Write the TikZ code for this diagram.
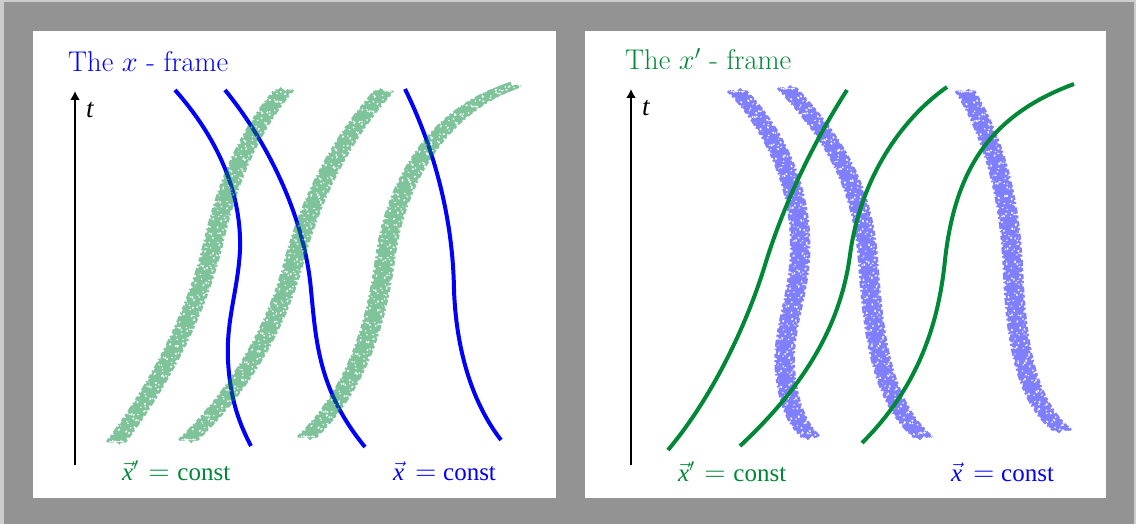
\RequirePackage{fix-cm}
\documentclass[tikz,border=0pt]{standalone}
\usepackage{fontspec}
\newfontfamily\tms{Liberation Serif}
\usetikzlibrary{arrows.meta}
\definecolor{frameGray}{RGB}{147,147,147}
\definecolor{edgeGray}{RGB}{205,205,205}
\definecolor{dkgreen}{RGB}{0,136,55}
\definecolor{pureblue}{RGB}{0,0,255}
\newcommand\chalkstroke[1]{%
  \begin{scope}[transparency group, opacity=0.5]
    \draw[#1, line width=9pt] \chalkpath;
    \foreach \s/\w/\dp in {
      -9/2.5/{on 4pt off 2.5pt on 2pt off 3pt on 7pt off 2pt on 1.5pt off 3.5pt},
      -7.5/2.5/{on 8pt off 1.5pt on 3pt off 2pt on 5pt off 1.5pt},
      -6/3/{on 11pt off 1.2pt on 6pt off 1.8pt},
      -4.5/3/{on 14pt off 1.4pt on 9pt off 1pt},
      4.5/3/{on 10pt off 1.3pt on 13pt off 1pt},
      6/3/{on 7pt off 1.5pt on 10pt off 1.8pt},
      7.5/2.5/{on 4pt off 2pt on 8pt off 1.5pt on 2pt off 2pt},
      9/2.5/{on 3pt off 3pt on 5pt off 2pt on 2pt off 3.5pt on 6pt off 2pt}}{
      \draw[#1, line width=\w pt, dash pattern/.expanded=\dp, xshift=\s pt] \chalkpath;
    }
    \foreach \s/\dp in {
      -6/{on 1.2pt off 13pt on 2pt off 17pt},
      -4/{on 2pt off 23pt on 1pt off 7pt},
      -1.5/{on 1.5pt off 21pt on 1pt off 9pt},
      0.5/{on 1pt off 27pt on 2pt off 12pt},
      2.5/{on 1pt off 11pt on 2.2pt off 19pt},
      4.5/{on 1.8pt off 15pt on 1pt off 8pt},
      6.5/{on 1.2pt off 9pt on 2pt off 14pt}}{
      \draw[white, line width=1.4pt, dash pattern/.expanded=\dp, xshift=\s pt] \chalkpath;
    }
  \end{scope}}
\tikzset{
  worldline/.style={line width=4pt, line cap=butt},
  axisline/.style={line width=2pt, -{Latex[length=9pt,width=10pt]}},
  titletext/.style={anchor=base west, inner sep=0pt, font=\fontsize{28.5}{31}\selectfont},
  lbltext/.style={anchor=base west, inner sep=0pt, font=\tms\fontsize{25}{28}\selectfont},
  tlabel/.style={anchor=base west, inner sep=0pt, font=\tms\itshape\fontsize{27}{30}\selectfont},
  panel/.style={fill=white, draw=none}
}
\newcommand\bigeq{{\fontsize{29}{30}\selectfont$=$}}
\newcommand\vx{$\vec{\hbox{\tms\itshape x}}$}
\begin{document}
\begin{tikzpicture}[x=1pt,y=-1pt]
\useasboundingbox (0,0) rectangle (1136,524);
\fill[edgeGray] (0,0) rectangle (1136,524);
\fill[frameGray] (4,2) rectangle (1134,524);
\fill[panel] (33,31) rectangle (556,498);
\fill[panel] (585,31) rectangle (1106,498);

% ---------- Panel 1 ----------
\node[titletext, text=pureblue] (title1) at (68,72) {The $x$ - frame};
\coordinate (ax1b) at (75,465);
\coordinate (ax1t) at (75,91);
\draw[axisline] (ax1b) -- (ax1t);
\node[tlabel] (t1) at (86,118) {t};

\draw[worldline, pureblue] (175,90) .. controls (215,135) and (242,190) .. (240,250)
  .. controls (238,290) and (226,320) .. (228,360) .. controls (230,400) and (240,425) .. (251,446);
\draw[worldline, pureblue] (225,90) .. controls (270,145) and (305,220) .. (311,290)
  .. controls (316,340) and (318,390) .. (365,447);
\draw[worldline, pureblue] (405,89) .. controls (435,150) and (453,220) .. (454,290)
  .. controls (456,345) and (470,400) .. (501,440);

\def\chalkpath{(116,442) .. controls (170,370) and (200,300) .. (214,240) .. controls (228,180) and (250,130) .. (284,90)}
\chalkstroke{dkgreen}
\def\chalkpath{(188,440) .. controls (240,390) and (275,330) .. (293,265) .. controls (310,200) and (340,140) .. (384,91)}
\chalkstroke{dkgreen}
\def\chalkpath{(307,437) .. controls (355,390) and (375,330) .. (385,260) .. controls (395,180) and (440,110) .. (512,86)}
\chalkstroke{dkgreen}

\node[lbltext, text=dkgreen] (lbl1a) at (122,480) {\vx${}'$\hspace{10pt}\bigeq\hspace{8pt}const};
\node[lbltext, text=pureblue] (lbl1b) at (393,480) {\vx\hspace{11pt}\bigeq\hspace{7pt}const};

% ---------- Panel 2 ----------
\node[titletext, text=dkgreen] (title2) at (625,70) {The $x'$ - frame};
\coordinate (ax2b) at (631,465);
\coordinate (ax2t) at (631,89);
\draw[axisline] (ax2b) -- (ax2t);
\node[tlabel] (t2) at (642,116) {t};

\def\chalkpath{(737,91) .. controls (775,130) and (803,190) .. (800,255) .. controls (798,300) and (782,330) .. (785,370) .. controls (788,405) and (798,425) .. (811,437)}
\chalkstroke{pureblue}
\def\chalkpath{(787,88) .. controls (830,135) and (862,180) .. (868,260) .. controls (873,330) and (880,400) .. (923,437)}
\chalkstroke{pureblue}
\def\chalkpath{(965,91) .. controls (995,140) and (1010,200) .. (1013,270) .. controls (1016,340) and (1025,400) .. (1062,430)}
\chalkstroke{pureblue}

\draw[worldline, dkgreen] (668,450) .. controls (710,400) and (745,330) .. (765,265)
  .. controls (785,200) and (815,140) .. (847,90);
\draw[worldline, dkgreen] (740,446) .. controls (800,390) and (840,330) .. (850,255)
  .. controls (860,180) and (900,120) .. (947,87);
\draw[worldline, dkgreen] (862,443) .. controls (915,390) and (938,330) .. (945,260)
  .. controls (955,170) and (990,115) .. (1074,84);

\node[lbltext, text=dkgreen] (lbl2a) at (678,481) {\vx${}'$\hspace{10pt}\bigeq\hspace{8pt}const};
\node[lbltext, text=pureblue] (lbl2b) at (951,481) {\vx\hspace{11pt}\bigeq\hspace{7pt}const};
\end{tikzpicture}
\end{document}
